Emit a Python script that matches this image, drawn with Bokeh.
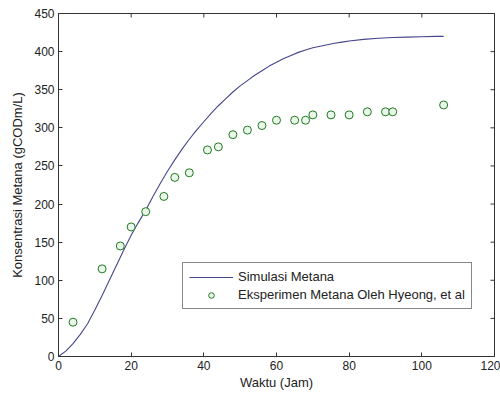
import math
from bokeh.plotting import figure
from bokeh.models import Range1d, FixedTicker, Legend, LegendItem, ColumnDataSource
from bokeh.embed import file_html
from bokeh.resources import INLINE

# Simulation curve (Simulasi Metana)
sim_time = [0, 2, 4, 6, 8, 10, 12, 14, 16, 18, 20, 22, 24, 26, 28, 30, 32, 34,
            36, 38, 40, 42, 44, 46, 48, 50, 52, 54, 56, 58, 60, 62, 64, 66, 68,
            70, 72, 74, 76, 78, 80, 84, 88, 92, 96, 100, 104, 106]
sim_methane = [0, 7, 17, 29, 43, 61, 80, 100, 120, 140, 159, 176, 192, 210,
               227, 243, 258, 272, 285, 297, 308, 319, 329, 338, 347, 355, 362,
               369, 375, 381, 386, 391, 395, 399, 402, 405, 407, 409, 411,
               412.5, 414, 416, 417.5, 418.5, 419, 419.5, 420, 420]

# Experimental points (Eksperimen Metana Oleh Hyeong, et al)
exp_time = [4, 12, 17, 20, 24, 29, 32, 36, 41, 44, 48, 52, 56, 60, 65, 68, 70,
            75, 80, 85, 90, 92, 106]
exp_methane = [45, 115, 145, 170, 190, 210, 235, 241, 271, 275, 291, 297, 303,
               310, 310, 310, 317, 317, 317, 321, 321, 321, 330]

x_ticks = [0, 20, 40, 60, 80, 100, 120]
y_ticks = [0, 50, 100, 150, 200, 250, 300, 350, 400, 450]

FONT = "Liberation Sans"
TXT = "#222222"
AX = "#333333"

p = figure(width=500, height=393, output_backend="svg", toolbar_location=None,
           x_range=Range1d(x_ticks[0], x_ticks[-1]), y_range=Range1d(y_ticks[0], y_ticks[-1]),
           min_border_left=58, min_border_right=6, min_border_top=13,
           min_border_bottom=37)
p.xgrid.visible = False
p.ygrid.visible = False
p.outline_line_color = AX
p.outline_line_width = 1
p.background_fill_color = "white"

def style(ax, ticks):
    ax.ticker = FixedTicker(ticks=ticks)
    ax.axis_line_color = AX
    ax.major_tick_line_color = AX
    ax.major_tick_in = 4
    ax.major_tick_out = 0
    ax.minor_tick_line_color = None
    ax.major_label_text_font = FONT
    ax.major_label_text_color = TXT
    ax.major_label_text_font_size = "12px"
    ax.major_label_standoff = 4
    ax.axis_label_text_font = FONT
    ax.axis_label_text_font_style = "normal"
    ax.axis_label_text_color = TXT
    ax.axis_label_text_font_size = "13px"

style(p.xaxis[0], x_ticks)
style(p.yaxis[0], y_ticks)
p.xaxis[0].axis_label = "Waktu (Jam)"
p.xaxis[0].axis_label_standoff = 2
p.yaxis[0].axis_label = "Konsentrasi Metana (gCODm/L)"
p.yaxis[0].axis_label_standoff = 6

# inward tick marks on the top and right edges of the box (clipped to the frame)
p.scatter(x=x_ticks, y=[y_ticks[-1]] * len(x_ticks), marker="dash", angle=math.pi / 2,
          size=8, line_color=AX, line_width=1)
p.scatter(x=[x_ticks[-1]] * len(y_ticks), y=y_ticks, marker="dash",
          size=8, line_color=AX, line_width=1)

sim_src = ColumnDataSource(dict(x=sim_time, y=sim_methane))
exp_src = ColumnDataSource(dict(x=exp_time, y=exp_methane))

r_line = p.line("x", "y", source=sim_src, line_color="#45458c", line_width=1.1)
r_pts = p.scatter("x", "y", source=exp_src, marker="circle", size=8,
                  line_color="#1f7a1f", fill_color="#eaf6ea", line_width=1)

legend = Legend(items=[LegendItem(label="Simulasi Metana", renderers=[r_line]),
                       LegendItem(label="Eksperimen Metana Oleh Hyeong, et al", renderers=[r_pts])],
                location=(124, 47))
legend.label_text_font = FONT
legend.label_text_font_size = "13px"
legend.label_text_color = TXT
legend.border_line_color = "#111111"
legend.border_line_width = 1
legend.background_fill_color = "white"
legend.background_fill_alpha = 1
legend.padding = 6
legend.spacing = 3
legend.margin = 0
legend.glyph_width = 44
legend.glyph_height = 14
legend.label_height = 14
legend.label_standoff = 5
p.add_layout(legend, "center")

open("out.html", "w").write(file_html(p, INLINE))
